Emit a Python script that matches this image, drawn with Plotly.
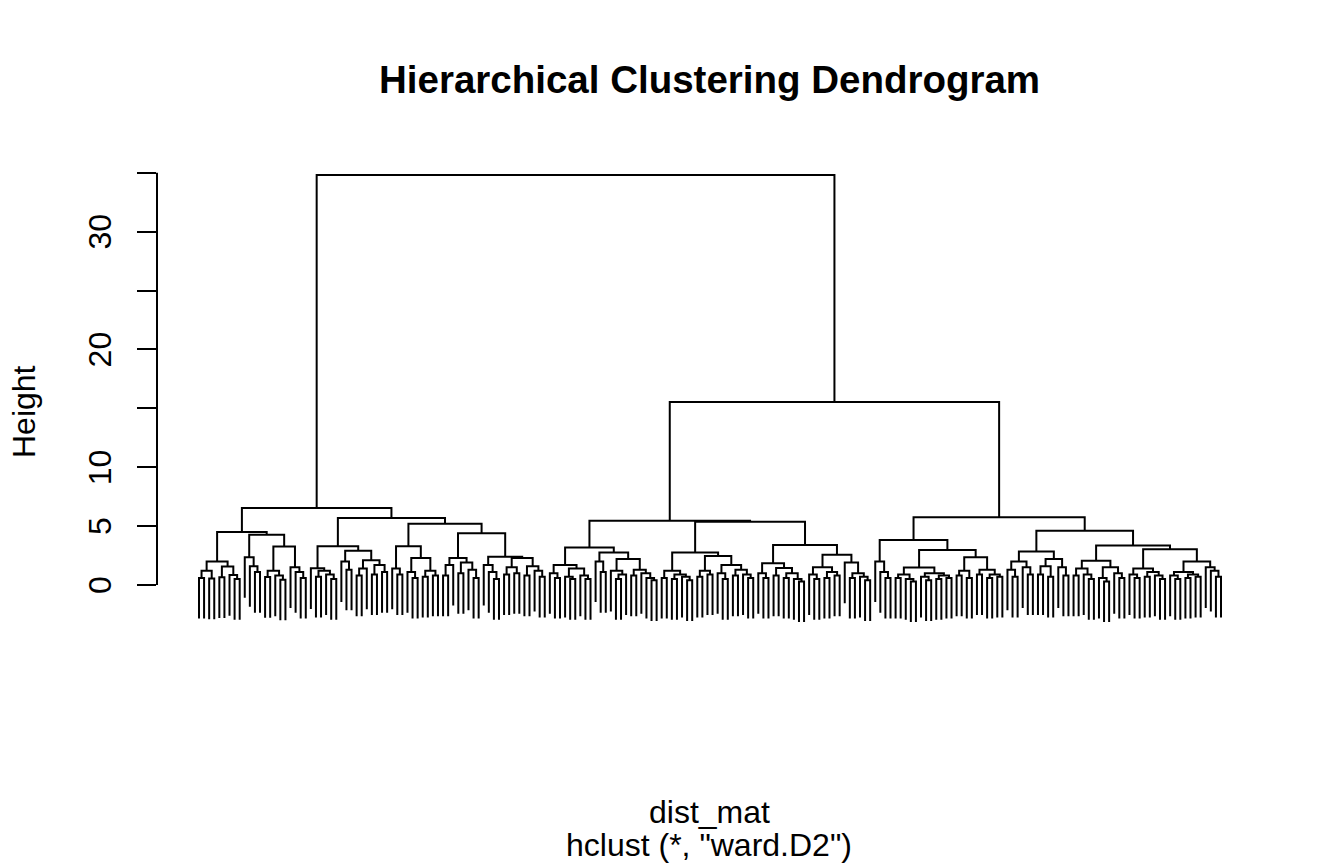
import plotly.graph_objects as go

# Merge heights: a node is [height, left, right], a leaf is 0
a1_left = [2.0, [1.2, [0.6, 0, 0], [0.55, 0, 0]], [1.56, [0.65, 0, 0], [0.85, 0, [0.5, 0, 0]]]]
a1_right = [4.26, [2.36, 0, [1.6, 0, [1.1, 0, 0]]],
            [3.27, [1.2, [0.67, 0, 0], [0.8, 0, [0.45, 0, 0]]], [1.5, 0, [1.1, 0, [0.6, 0, 0]]]]]
a2_left = [3.3, [1.42, 0, [1.2, [0.7, 0, 0], [0.9, 0, [0.5, 0, 0]]]],
           [2.9, [2.0, 0, [1.3, 0, 0]], [2.1, [1.4, [0.8, 0, 0], 0], [1.7, [0.9, 0, 0], [1.1, 0, 0]]]]]
a2_right = [5.2, [3.3, [1.4, 0, [0.9, 0, 0]], [2.3, [1.1, 0, [0.6, 0, 0]], [1.2, [0.7, 0, 0], [0.8, 0, 0]]]],
            [4.4, [2.3, [1.7, [0.8, 0, 0], 0], [1.9, [1.0, 0, 0], [1.3, 0, [0.6, 0, 0]]]],
             [2.4, [1.7, 0, [1.1, 0, [0.5, 0, 0]]],
              [2.3, [1.5, [0.9, 0, 0], [1.0, 0, 0]], [1.6, [0.8, 0, 0], [1.2, 0, [0.7, 0, 0]]]]]]]

b1_left = [3.18, [1.7, [1.0, 0, [0.6, 0, 0]], [1.4, [0.7, 0, [0.5, 0, 0]], [0.8, 0, [0.5, 0, 0]]]],
           [2.75, [2.0, 0, [1.1, 0, 0]],
            [2.2, [1.2, 0, [0.9, [0.5, 0, 0], 0]], [1.3, [0.8, 0, 0], [1.0, 0, [0.6, 0, [0.4, 0, 0]]]]]]]
b1_right = [5.37, [2.75, [1.2, [0.6, 0, 0], [0.9, [0.5, 0, 0], [0.7, 0, [0.4, 0, 0]]]],
                   [2.47, [1.2, [0.7, 0, 0], [0.9, 0, 0]],
                    [1.7, [1.0, 0, [0.5, 0, 0]], [1.3, [0.8, 0, 0], [0.9, 0, [0.6, 0, 0]]]]]],
            [3.4, [1.85, [1.0, 0, [0.6, 0, 0]], [1.45, [0.8, 0, 0], [1.0, [0.6, 0, 0], [0.5, 0, [0.3, 0, 0]]]]],
             [2.56, [1.5, [0.9, 0, [0.5, 0, 0]], [1.1, [0.6, 0, 0], [0.8, 0, 0]]],
              [1.9, 0, [1.0, [0.6, 0, 0], [0.7, 0, [0.4, 0, 0]]]]]]]

b2_left = [3.83, [2.0, 0, [1.1, 0, [0.6, 0, 0]]],
           [2.98, [1.48, [0.9, [0.6, 0, 0], [0.5, 0, [0.3, 0, 0]]], [1.0, [0.7, 0, [0.4, 0, 0]], [0.8, [0.5, 0, 0], [0.6, 0, 0]]]],
            [2.36, [1.2, [0.8, 0, 0], [0.6, 0, 0]], [1.3, [0.9, 0, 0], [0.9, [0.6, 0, 0], [0.7, 0, 0]]]]]]
b2_right = [4.61, [2.84, [2.0, [1.3, 0, [0.7, 0, 0]], [1.5, 0, [0.9, 0, 0]]],
                   [2.2, [1.6, [0.9, 0, 0], [0.7, 0, 0]], [1.5, 0, [0.8, 0, 0]]]],
            [3.35, [2.05, [1.4, [0.8, 0, 0], [0.9, 0, [0.5, 0, 0]]], [1.5, [0.6, 0, [0.3, 0, 0]], [1.0, 0, [0.6, 0, 0]]]],
             [3.04, [1.4, [0.9, 0, [0.6, 0, 0]], [1.1, [0.7, 0, 0], [0.8, 0, [0.5, 0, 0]]]],
              [2.0, [1.1, [0.8, 0, [0.5, 0, 0]], [0.9, [0.6, 0, 0], [0.7, 0, 0]]], [1.5, 0, [1.2, 0, [0.7, 0, 0]]]]]]]

a1 = [4.5, a1_left, a1_right]
a2 = [5.69, a2_left, a2_right]
b1 = [5.46, b1_left, b1_right]
b2 = [5.75, b2_left, b2_right]
root = [34.8, [6.54, a1, a2], [15.53, b1, b2]]

y_ticks = [0, 5, 10, 15, 20, 25, 30, 35]
y_tick_text = ["0", "5", "10", "", "20", "", "30", ""]

FONT = "Liberation Sans, Arial, Helvetica, sans-serif"
OFF = 8                      # the page body margin shifts the figure by 8px
W, H = 1344 - OFF, 864 - OFF
# plot area, in page pixels
L, R, T, B = 157, 1264, 160, 640
PX_PER_UNIT = 11.78
Y0_PX = 585


# collect merge heights so the leaves hang like R's plot.hclust (hang = 0.1)
def all_heights(node, out):
    if node == 0:
        return out
    out.append(node[0])
    all_heights(node[1], out)
    all_heights(node[2], out)
    return out


hts = all_heights(root, [])
hang = 0.1 * (max(hts) - min(hts))

xs, ys = [], []
leaf_count = [0]


def place(node):
    if node == 0:
        leaf_count[0] += 1
        return leaf_count[0], None
    h, left, right = node
    xl, hl = place(left)
    xr, hr = place(right)
    yl = hl if hl is not None else h - hang
    yr = hr if hr is not None else h - hang
    xs.extend([xl, xl, xr, xr, None])
    ys.extend([yl, h, h, yr, None])
    return (xl + xr) / 2, h


place(root)
n = leaf_count[0]

# leaf 1 sits at page pixel 199, last leaf at 1221
step = (1221 - 199) / (n - 1)
x_range = [1 - (199 - L) / step, n + (R - 1221) / step]
y_range = [(Y0_PX - B) / PX_PER_UNIT, (Y0_PX - T) / PX_PER_UNIT]


def px_x(p):
    return (p - L) / (R - L)


def px_y(p):
    return (B - p) / (B - T)


fig = go.Figure()
fig.add_trace(go.Scatter(
    x=xs, y=ys, mode="lines",
    line=dict(color="black", width=2),
    hoverinfo="skip", showlegend=False
))

annotations = []
for v, t in zip(y_ticks, y_tick_text):
    if t:
        annotations.append(dict(
            x=px_x(100), xref="paper", y=v, yref="y", text=t, textangle=-90,
            showarrow=False, xanchor="center", yanchor="middle",
            font=dict(family=FONT, size=32, color="black")
        ))

annotations += [
    dict(x=px_x(709), xref="paper", y=px_y(80), yref="paper",
         text="<b>Hierarchical Clustering Dendrogram</b>", showarrow=False,
         xanchor="center", yanchor="middle", font=dict(family=FONT, size=38.5, color="black")),
    dict(x=px_x(24), xref="paper", y=px_y(412), yref="paper", text="Height",
         textangle=-90, showarrow=False, xanchor="center", yanchor="middle",
         font=dict(family=FONT, size=32, color="black")),
    dict(x=px_x(709), xref="paper", y=px_y(812), yref="paper", text="dist_mat",
         showarrow=False, xanchor="center", yanchor="middle",
         font=dict(family=FONT, size=32, color="black")),
    dict(x=px_x(709), xref="paper", y=px_y(845), yref="paper", text='hclust (*, "ward.D2")',
         showarrow=False, xanchor="center", yanchor="middle",
         font=dict(family=FONT, size=32, color="black")),
]

fig.update_layout(
    width=W, height=H,
    margin=dict(l=L - OFF, r=W - (R - OFF), t=T - OFF, b=H - (B - OFF), pad=0, autoexpand=False),
    paper_bgcolor="white", plot_bgcolor="white",
    annotations=annotations,
    shapes=[dict(type="line", xref="paper", x0=0, x1=0, yref="y",
                 y0=y_ticks[0], y1=y_ticks[-1], line=dict(color="black", width=2))],
)
fig.update_xaxes(range=x_range, visible=False, showgrid=False, zeroline=False)
fig.update_yaxes(range=y_range, showgrid=False, zeroline=False, showline=False,
                 tickvals=y_ticks, ticks="outside", ticklen=19, tickwidth=2,
                 tickcolor="black", showticklabels=False)

fig.write_html("out.html")
